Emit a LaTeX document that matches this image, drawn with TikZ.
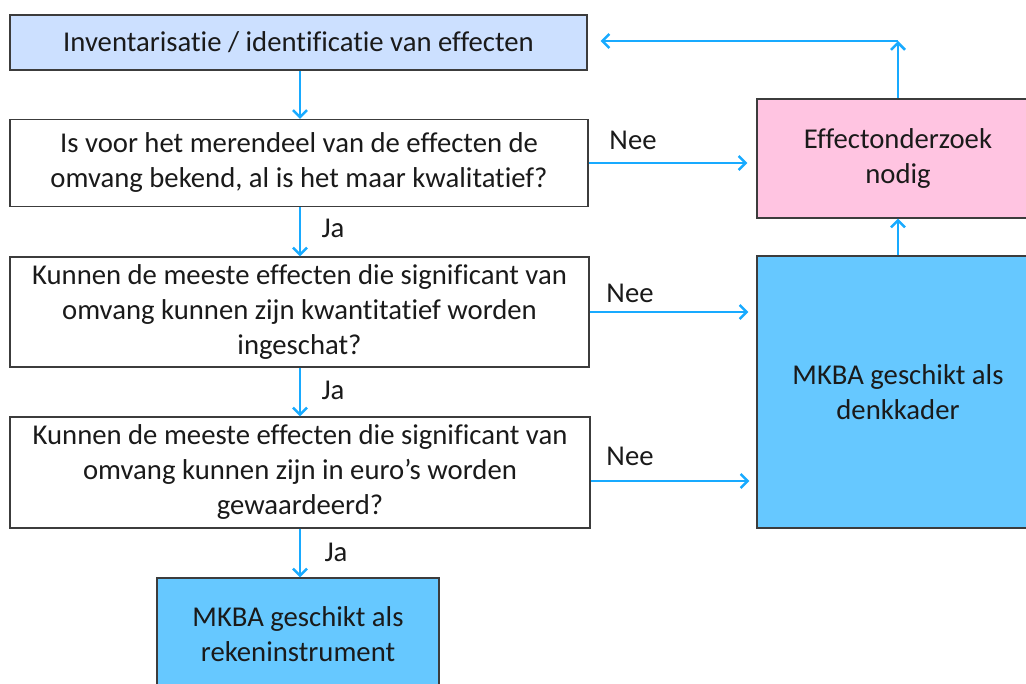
\documentclass[tikz,border=0pt]{standalone}
\usepackage{fontspec}
\setmainfont{Carlito}[RawFeature=-liga]
\usetikzlibrary{arrows.meta,calc}
\definecolor{arrowblue}{RGB}{24,170,255}
\definecolor{lightblue}{RGB}{204,224,255}
\definecolor{pinkfill}{RGB}{255,196,225}
\definecolor{mkbablue}{RGB}{102,200,255}
\definecolor{txt}{RGB}{26,26,26}
\definecolor{border}{RGB}{60,60,60}
\tikzset{
  box/.style={draw=border, line width=1.2pt, align=center, text=txt, inner sep=0pt,
    font=\fontsize{28.7}{35}\selectfont},
  arr/.style={draw=arrowblue, line width=2.5pt, -{Straight Barb[length=7pt,width=14pt,line width=2.5pt]}},
  lbl/.style={text=txt, font=\fontsize{28.7}{35}\selectfont, inner sep=0pt}
}
\begin{document}
\begin{tikzpicture}[x=1pt,y=-1pt]
\useasboundingbox (0,0) rectangle (1026,684);
\clip (0,0) rectangle (1026,684);
\node[box, fill=lightblue, minimum width=577pt, minimum height=55pt] (b1) at (298.5,42.5)
  {Inventarisatie / identificatie van effecten};
\node[box, fill=white, minimum width=578pt, minimum height=87pt] (b2) at (299,163)
  {Is voor het merendeel van de effecten de\\omvang bekend, al is het maar kwalitatief?};
\node[box, fill=white, minimum width=579pt, minimum height=110pt] (b3) at (299.5,312)
  {Kunnen de meeste effecten die significant van\\omvang kunnen zijn kwantitatief worden\\ingeschat?};
\node[box, fill=white, minimum width=580pt, minimum height=111pt] (b4) at (300,472.5)
  {Kunnen de meeste effecten die significant van\\omvang kunnen zijn in euro’s worden\\gewaardeerd?};
\node[box, fill=mkbablue, minimum width=282pt, minimum height=112pt] (b5) at (298,634)
  {MKBA geschikt als\\rekeninstrument};
\node[box, fill=pinkfill, minimum width=282pt, minimum height=119pt] (eff) at (898,158.5)
  {Effectonderzoek\\nodig};
\node[box, fill=mkbablue, minimum width=282pt, minimum height=272pt] (denk) at (898,392)
  {MKBA geschikt als\\denkkader};

\coordinate (vx) at (300,0);
\coordinate (corner) at (898,41);
\coordinate (b4out) at ([yshift=-8.5pt]b4.east);

\draw[arr] (b1.south -| vx) -- (b2.north -| vx);
\draw[arr] (b2.south -| vx) -- (b3.north -| vx);
\draw[arr] (b3.south -| vx) -- (b4.north -| vx);
\draw[arr] (b4.south -| vx) -- (b5.north -| vx);

\draw[arr, shorten >=9pt] (b2.east) -- (eff.west |- b2.east);
\draw[arr, shorten >=8pt] (b3.east) -- (denk.west |- b3.east);
\draw[arr, shorten >=7pt] (b4out) -- (denk.west |- b4out);

\draw[arr] (denk.north) -- (eff.south);
\draw[arr] (eff.north) -- (corner);
\draw[arr, shorten >=13pt] (corner) -- (b1.east |- corner);

\node[lbl] (ja1) at (333,228) {Ja};
\node[lbl] (ja2) at (333,390) {Ja};
\node[lbl] (ja3) at (336,552) {Ja};
\node[lbl] (nee1) at (633,140) {Nee};
\node[lbl] (nee2) at (630,293) {Nee};
\node[lbl] (nee3) at (630,456) {Nee};
\end{tikzpicture}
\end{document}
